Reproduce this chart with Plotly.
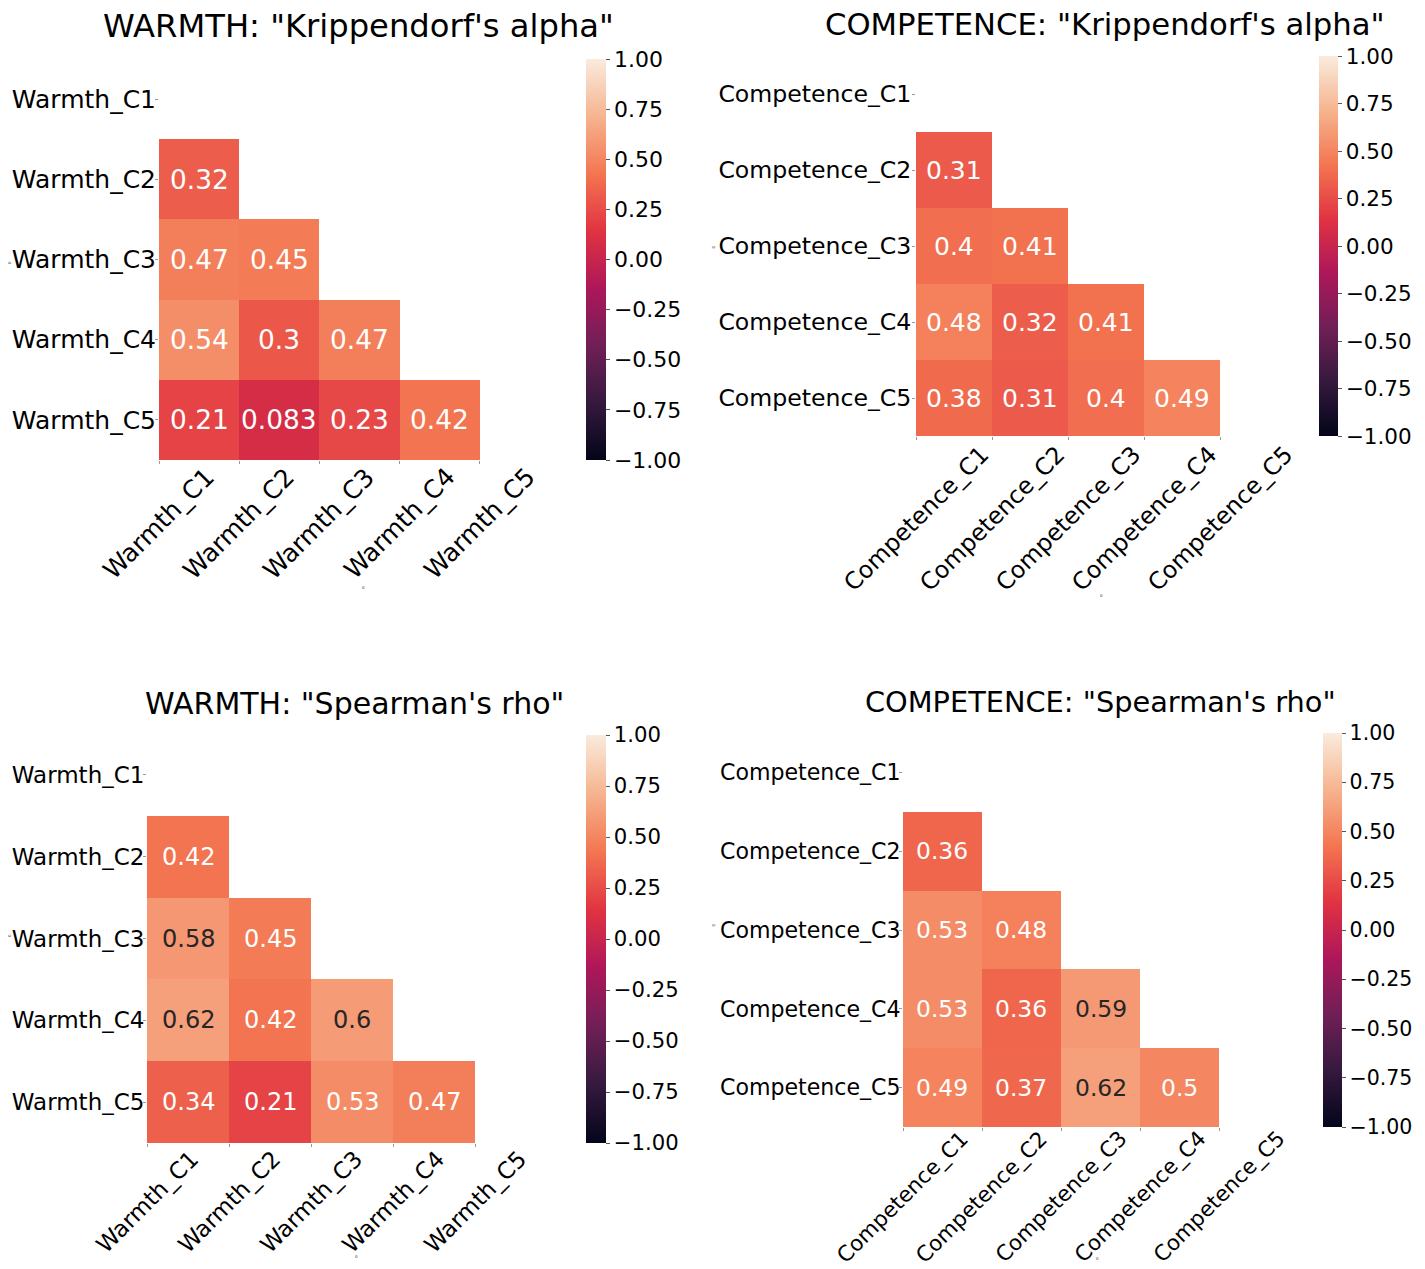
import numpy as np
import plotly.graph_objects as go

W, H = 1425, 1269
OFF = 8  # page body margin of the browser

# ---------------- data ----------------
warmth_labels = ["Warmth_C1", "Warmth_C2", "Warmth_C3", "Warmth_C4", "Warmth_C5"]
competence_labels = ["Competence_C1", "Competence_C2", "Competence_C3",
                     "Competence_C4", "Competence_C5"]

# lower-triangle values, rows C2..C5 (columns C1..)
warmth_alpha = [[0.32],
                [0.47, 0.45],
                [0.54, 0.30, 0.47],
                [0.21, 0.083, 0.23, 0.42]]
competence_alpha = [[0.31],
                    [0.40, 0.41],
                    [0.48, 0.32, 0.41],
                    [0.38, 0.31, 0.40, 0.49]]
warmth_rho = [[0.42],
              [0.58, 0.45],
              [0.62, 0.42, 0.60],
              [0.34, 0.21, 0.53, 0.47]]
competence_rho = [[0.36],
                  [0.53, 0.48],
                  [0.53, 0.36, 0.59],
                  [0.49, 0.37, 0.62, 0.50]]

titles = ['WARMTH: "Krippendorf\'s alpha"',
          'COMPETENCE: "Krippendorf\'s alpha"',
          'WARMTH: "Spearman\'s rho"',
          'COMPETENCE: "Spearman\'s rho"']
cbar_ticks = [-1.0, -0.75, -0.5, -0.25, 0.0, 0.25, 0.5, 0.75, 1.0]
vmin, vmax = -1.0, 1.0

# ---------------- style ----------------
rocket = [(0.0, "#03051a"), (1/7, "#35193e"), (2/7, "#701f57"), (3/7, "#ad1759"),
          (4/7, "#e13342"), (5/7, "#f37651"), (6/7, "#f6b48f"), (1.0, "#faebdd")]
FONT = "DejaVu Sans"
DARK = "#262626"

# pixel boxes: grid (x0,x1,y0,y1), colorbar (x0,x1,y0,y1), font sizes, title (xc, ymid)
panels = [
    dict(grid=(159, 560, 59, 460), cbar=(586, 606, 59, 460), tick=25, xtick=25, ann=26.4,
         cb=22, title=32.2, tpos=(358, 26), gap=0, stand=-6, tiny=((5, 259), (360, 587))),
    dict(grid=(916, 1296, 56, 436), cbar=(1319, 1338, 56, 436), tick=23.6, xtick=23.6, ann=25,
         cb=21.5, title=30.7, tpos=(1105, 24), gap=2, stand=-4, tiny=((713, 244), (1105, 595))),
    dict(grid=(147, 557, 734, 1143), cbar=(586, 606, 735, 1143), tick=23, xtick=23, ann=24,
         cb=21.2, title=30, tpos=(354, 703), gap=0, stand=-6, tiny=((5, 939), (353, 1261))),
    dict(grid=(903, 1298, 733, 1127), cbar=(1323, 1342, 733, 1127), tick=22.1, xtick=21.4,
         ann=23.4, cb=20.5, title=28.8, tpos=(1100, 702), gap=-4, stand=-6,
         tiny=((713, 929), (1101, 1263))),
]
datasets = [(warmth_alpha, warmth_labels), (competence_alpha, competence_labels),
            (warmth_rho, warmth_labels), (competence_rho, competence_labels)]


def hex2rgb(h):
    h = h.lstrip("#")
    return np.array([int(h[i:i + 2], 16) for i in (0, 2, 4)], dtype=float)


def cmap(v):
    t = (v - vmin) / (vmax - vmin)
    for (p0, c0), (p1, c1) in zip(rocket[:-1], rocket[1:]):
        if p0 <= t <= p1:
            f = (t - p0) / (p1 - p0)
            return hex2rgb(c0) + f * (hex2rgb(c1) - hex2rgb(c0))
    return hex2rgb(rocket[-1][1])


def luminance(rgb):
    c = rgb / 255.0
    c = np.where(c <= 0.03928, c / 12.92, ((c + 0.055) / 1.055) ** 2.4)
    return 0.2126 * c[0] + 0.7152 * c[1] + 0.0722 * c[2]


def full_matrix(lower):
    n = len(lower) + 1
    m = np.full((n, n), np.nan)
    for i, row in enumerate(lower, start=1):
        for j, v in enumerate(row):
            m[i, j] = v
    return m


def fmt(v):
    return f"{v:.2g}"


px = lambda x: (x - OFF) / W
py = lambda y: 1 - (y - OFF) / H

fig = go.Figure()
layout = dict(width=W, height=H, margin=dict(l=0, r=0, t=0, b=0),
              paper_bgcolor="white", plot_bgcolor="white", showlegend=False,
              font=dict(family=FONT, color="black"))
annotations = []

for k, (p, (lower, labels)) in enumerate(zip(panels, datasets)):
    sfx = "" if k == 0 else str(k + 1)
    z = full_matrix(lower)
    n = len(labels)
    idx = list(range(n))
    gx0, gx1, gy0, gy1 = p["grid"]
    cx0, cx1, cy0, cy1 = p["cbar"]
    fig.add_trace(go.Heatmap(
        z=z, x=idx, y=idx, zmin=vmin, zmax=vmax,
        colorscale=[[s, c] for s, c in rocket],
        xaxis="x" + sfx, yaxis="y" + sfx, hoverinfo="skip",
        colorbar=dict(x=px(cx0), xanchor="left", xpad=0, ypad=0,
                      y=py((cy0 + cy1) / 2), yanchor="middle",
                      len=cy1 - cy0, lenmode="pixels",
                      thickness=cx1 - cx0, thicknessmode="pixels",
                      outlinewidth=0, tickvals=cbar_ticks, tickformat=".2f",
                      ticks="outside", ticklen=4, tickcolor="#555555",
                      tickfont=dict(family=FONT, size=p["cb"], color="black"))))
    layout["xaxis" + sfx] = dict(domain=[px(gx0), px(gx1)], anchor="y" + sfx,
                                 range=[-0.5, n - 0.5], tickvals=[i - 0.5 for i in idx],
                                 showticklabels=False, ticks="outside", ticklen=3,
                                 tickcolor="#999999", showgrid=False, zeroline=False,
                                 showline=False, fixedrange=True)
    layout["yaxis" + sfx] = dict(domain=[py(gy1), py(gy0)], anchor="x" + sfx,
                                 range=[n - 0.5, -0.5], tickvals=idx, ticktext=labels,
                                 ticks="outside", ticklen=3, tickcolor="#999999",
                                 ticklabelstandoff=p["stand"],
                                 tickfont=dict(family=FONT, size=p["tick"], color="black"),
                                 showgrid=False, zeroline=False, showline=False,
                                 fixedrange=True)
    # cell annotations
    for i in range(n):
        for j in range(n):
            v = z[i, j]
            if np.isnan(v):
                continue
            col = DARK if luminance(cmap(v)) > 0.408 else "white"
            annotations.append(dict(x=j, y=i, xref="x" + sfx, yref="y" + sfx,
                                    text=fmt(v), showarrow=False,
                                    font=dict(family=FONT, size=p["ann"], color=col)))
    # rotated x tick labels centred on the ticks
    for i, lab in enumerate(labels):
        annotations.append(dict(x=i - 0.5, y=n - 0.5, xref="x" + sfx, yref="y" + sfx,
                                text=lab, textangle=-45, showarrow=False,
                                xanchor="center", yanchor="top", yshift=-p["gap"],
                                font=dict(family=FONT, size=p["xtick"], color="black")))
    # title
    tx, ty = p["tpos"]
    annotations.append(dict(x=px(tx), y=py(ty), xref="paper", yref="paper",
                            text=titles[k], showarrow=False, xanchor="center",
                            yanchor="middle",
                            font=dict(family=FONT, size=p["title"], color="black")))
    # tiny axis-label artefacts
    (ylx, yly), (xlx, xly) = p["tiny"]
    annotations.append(dict(x=px(ylx), y=py(yly), xref="paper", yref="paper", text="0",
                            textangle=-90, showarrow=False,
                            font=dict(family=FONT, size=4, color="#333333")))
    annotations.append(dict(x=px(xlx), y=py(xly), xref="paper", yref="paper", text="0",
                            showarrow=False,
                            font=dict(family=FONT, size=4, color="#333333")))

layout["annotations"] = annotations
fig.update_layout(**layout)
fig.write_html("out.html")
